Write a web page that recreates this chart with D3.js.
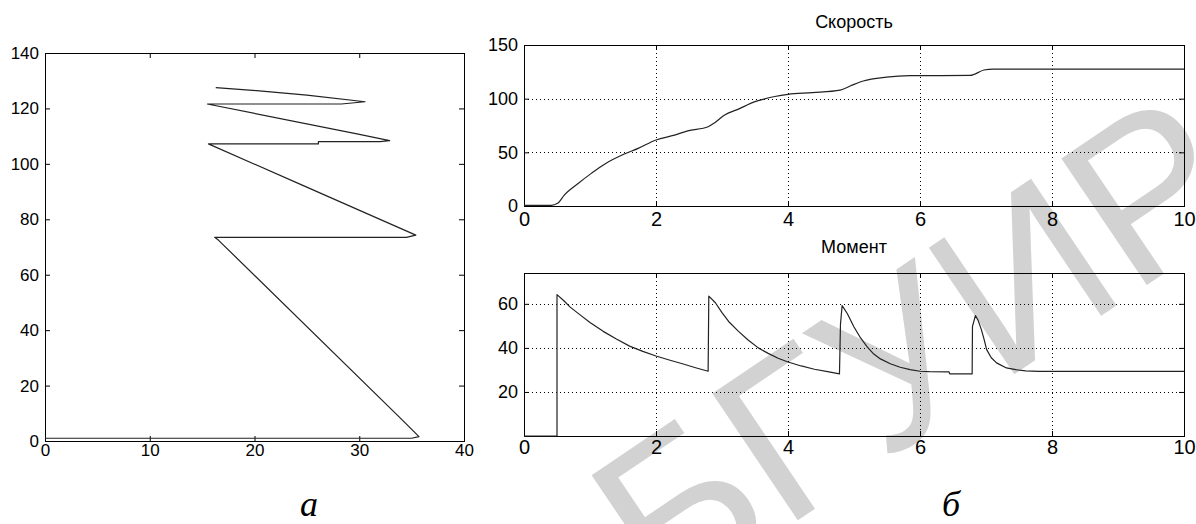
<!DOCTYPE html>
<html><head><meta charset="utf-8">
<script src="https://cdn.jsdelivr.net/npm/d3@7"></script>
<style>body{margin:0;background:#fff} svg{display:block}</style>
</head><body>
<svg id="c" width="1196" height="524"></svg>
<script>
// ---- data ----
const phaseMoment = [0, 35.0, 35.7, 34.0, 16.55, 16.2, 34.5, 35.4, 24.5, 15.6, 26.1, 26.1, 32.0, 32.9, 29.9, 15.5, 28.3, 30.55, 25.0, 20.2, 16.3];
const phaseSpeed  = [1, 1, 1.6, 8, 72.5, 73.5, 73.5, 74.3, 92.4, 107.2, 107.2, 108, 108, 108.4, 110.7, 121.6, 121.6, 122.4, 124.8, 126.4, 127.5];

const timeSpeed   = [0, 0.41, 0.51, 0.61, 0.82, 1.02, 1.22, 1.52, 1.73, 2.0, 2.28, 2.48, 2.79, 2.89, 3.04, 3.24, 3.5, 3.62, 3.8, 4.0, 4.37, 4.79, 4.95, 5.14, 5.49, 5.85, 6.76, 6.97, 7.11, 10];
const speedValues = [0.6, 0.6, 2.5, 10.2, 21, 30.4, 39, 48.4, 53.7, 61.5, 66, 70, 73.9, 77.6, 84.8, 90, 97.2, 99.4, 102, 104, 105.6, 108, 112, 116.5, 120, 121.4, 121.7, 126.7, 127.6, 127.6];

const timeMoment   = [0, 0.5, 0.5, 0.6, 0.7, 0.85, 1.0, 1.2, 1.4, 1.6, 1.8, 2.0, 2.2, 2.4, 2.6, 2.79,
                      2.8, 2.9, 3.0, 3.1, 3.25, 3.4, 3.55, 3.7, 3.85, 4.0, 4.2, 4.4, 4.6, 4.78,
                      4.795, 4.82, 4.9, 5.0, 5.1, 5.2, 5.3, 5.4, 5.55, 5.7, 5.85, 6.0, 6.14, 6.44, 6.45, 6.79,
                      6.795, 6.84, 6.88, 6.93, 6.97, 7.01, 7.08, 7.16, 7.31, 7.45, 7.6, 7.8, 10];
const momentValues = [0, 0, 64.2, 61.5, 58.5, 55, 51.5, 47.5, 44, 40.8, 38.4, 36.3, 34.5, 32.8, 31, 29.4,
                      63.5, 60.5, 56, 52, 47.5, 43.5, 40, 37.5, 35.3, 33.6, 31.8, 30.3, 29.2, 28.2,
                      50.6, 59.2, 55.5, 49.5, 44.5, 40.5, 37.2, 35, 32.8, 31.2, 30.1, 29.4, 29.2, 29.1, 28.2, 28.2,
                      49.8, 54.7, 52.5, 48.3, 44, 39.2, 35.5, 33.2, 30.9, 30.1, 29.6, 29.3, 29.3];

const leftXTicks  = [0, 10, 20, 30, 40];
const leftYTicks  = [0, 20, 40, 60, 80, 100, 120, 140];
const timeTicks   = [0, 2, 4, 6, 8, 10];
const speedTicks  = [0, 50, 100, 150];
const momentTicks = [20, 40, 60];

const titleSpeed = "Скорость";
const titleMoment = "Момент";
const panelLabels = ["а", "б"];
const watermark = "БГУИР";

// ---- drawing ----
const svg = d3.select("#c");
svg.append("rect").attr("width", 1196).attr("height", 524).attr("fill", "#fff");

// watermark (behind everything)
svg.append("text")
  .attr("transform", "translate(662,612) rotate(-34)")
  .attr("font-family", "Liberation Sans, Arial, sans-serif")
  .attr("font-size", 222)
  .attr("fill", "#d2d2d2")
  .text(watermark);

function panel(opt) {
  const g = svg.append("g");
  const x = d3.scaleLinear().domain(opt.xd).range([opt.x0, opt.x1]);
  const y = d3.scaleLinear().domain(opt.yd).range([opt.y1, opt.y0]);
  const font = opt.font;

  if (opt.grid) {
    const gg = g.append("g").attr("stroke", "#000").attr("stroke-width", 1)
      .attr("stroke-dasharray", "1,3").attr("shape-rendering", "crispEdges");
    gg.selectAll("line.gx").data(opt.xt.filter(v => v > opt.xd[0] && v < opt.xd[1]))
      .join("line").attr("x1", d => Math.round(x(d)) + 0.5).attr("x2", d => Math.round(x(d)) + 0.5)
      .attr("y1", opt.y0).attr("y2", opt.y1);
    gg.selectAll("line.gy").data(opt.yt.filter(v => v > opt.yd[0] && v < opt.yd[1]))
      .join("line").attr("y1", d => Math.round(y(d)) + 0.5).attr("y2", d => Math.round(y(d)) + 0.5)
      .attr("x1", opt.x0).attr("x2", opt.x1);
  }

  const style = sel => {
    sel.select(".domain").remove();
    sel.selectAll("line").attr("stroke", "#000");
    sel.selectAll("text").attr("font-family", font).attr("fill", "#000");
  };
  g.append("g").attr("transform", `translate(0,${opt.y1})`)
    .call(d3.axisBottom(x).tickValues(opt.xt).tickSizeInner(-5).tickSizeOuter(0).tickPadding(opt.xpad))
    .call(style).call(s => s.selectAll("text").attr("font-size", opt.xfs));
  g.append("g").attr("transform", `translate(0,${opt.y0})`)
    .call(d3.axisTop(x).tickValues(opt.xt).tickSizeInner(-5).tickSizeOuter(0).tickFormat(""))
    .call(style);
  g.append("g").attr("transform", `translate(${opt.x0},0)`)
    .call(d3.axisLeft(y).tickValues(opt.yt).tickSizeInner(-5).tickSizeOuter(0).tickPadding(opt.ypad))
    .call(style).call(s => s.selectAll("text").attr("font-size", opt.yfs));
  g.append("g").attr("transform", `translate(${opt.x1},0)`)
    .call(d3.axisRight(y).tickValues(opt.yt).tickSizeInner(-5).tickSizeOuter(0).tickFormat(""))
    .call(style);

  g.append("rect").attr("x", opt.x0 + 0.5).attr("y", opt.y0 + 0.5)
    .attr("width", opt.x1 - opt.x0).attr("height", opt.y1 - opt.y0)
    .attr("fill", "none").attr("stroke", "#000").attr("stroke-width", 1)
    .attr("shape-rendering", "crispEdges");

  const pts = opt.xs.map((v, i) => [v, opt.ys[i]]);
  g.append("path").datum(pts)
    .attr("d", d3.line().curve(opt.curve || d3.curveLinear).x(d => x(d[0])).y(d => y(d[1])))
    .attr("fill", "none").attr("stroke", "#222").attr("stroke-width", 1.2)
    .attr("stroke-linejoin", "round");

  if (opt.title) {
    g.append("text").attr("x", (opt.x0 + opt.x1) / 2).attr("y", opt.ty)
      .attr("text-anchor", "middle").attr("font-family", font).attr("font-size", 18)
      .text(opt.title);
  }
  return g;
}

const narrow = "Liberation Sans Narrow, Liberation Sans, Arial, sans-serif";

panel({ xd: [0, 40], yd: [0, 140], x0: 45, x1: 464, y0: 53, y1: 441,
  xt: leftXTicks, yt: leftYTicks, xs: phaseMoment, ys: phaseSpeed,
  font: "Liberation Sans, Arial, sans-serif", xfs: 17, yfs: 17, xpad: 3, ypad: 6, grid: false });

panel({ xd: [0, 10], yd: [0, 150], x0: 524, x1: 1184, y0: 45, y1: 206,
  xt: timeTicks, yt: speedTicks, xs: timeSpeed, ys: speedValues, curve: d3.curveMonotoneX,
  font: narrow, xfs: 20, yfs: 18, xpad: 6, ypad: 6, grid: true, title: titleSpeed, ty: 28 });

panel({ xd: [0, 10], yd: [0, 74], x0: 524, x1: 1184, y0: 273, y1: 436,
  xt: timeTicks, yt: momentTicks, xs: timeMoment, ys: momentValues,
  font: narrow, xfs: 20, yfs: 18, xpad: 4, ypad: 6, grid: true, title: titleMoment, ty: 253 });

svg.selectAll("text.pl").data(panelLabels).join("text")
  .attr("class", "pl")
  .attr("x", (d, i) => i === 0 ? 309 : 951).attr("y", 516)
  .attr("text-anchor", "middle")
  .attr("font-family", "Liberation Serif, Times New Roman, serif")
  .attr("font-style", "italic").attr("font-size", 36).attr("fill", "#000")
  .text(d => d);
</script>
</body></html>
